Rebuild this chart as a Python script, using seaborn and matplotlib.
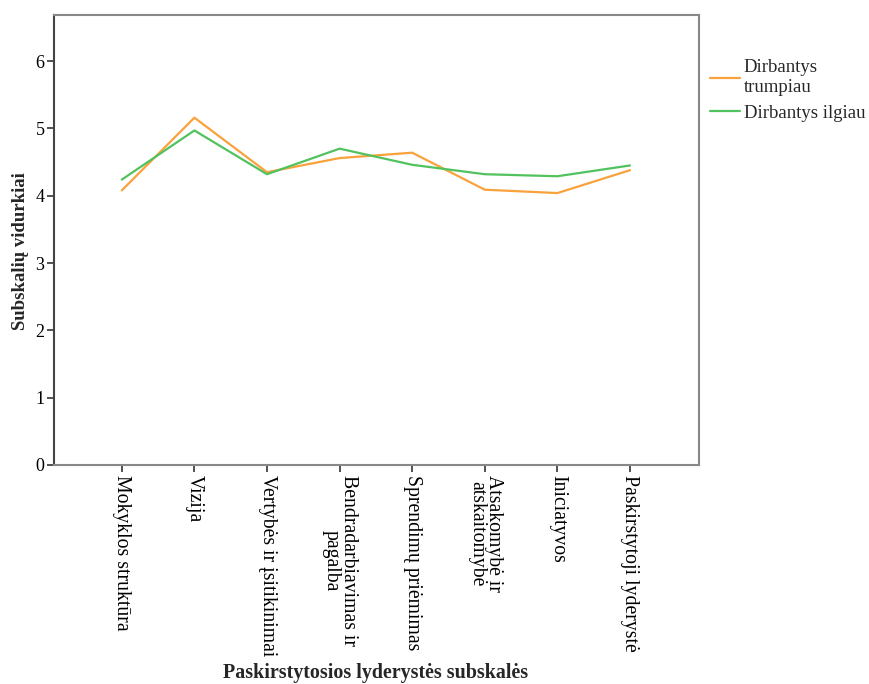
import matplotlib
matplotlib.use("Agg")
import matplotlib.pyplot as plt
import seaborn as sns
import pandas as pd
from matplotlib.lines import Line2D

categories = ["Mokyklos struktūra", "Vizija", "Vertybės ir įsitikinimai",
              "Bendradarbiavimas ir\npagalba", "Sprendimų priėmimas",
              "Atsakomybė ir\natskaitomybė", "Iniciatyvos", "Paskirstytoji lyderystė"]
series_names = ["Dirbantys\ntrumpiau", "Dirbantys ilgiau"]
trumpiau = [4.08, 5.16, 4.35, 4.56, 4.64, 4.09, 4.04, 4.38]
ilgiau = [4.24, 4.97, 4.32, 4.70, 4.46, 4.32, 4.29, 4.45]
colors = ["#F9A23C", "#52C25E"]

df = pd.DataFrame({
    "cat": categories * 2,
    "val": trumpiau + ilgiau,
    "grp": [series_names[0]] * len(categories) + [series_names[1]] * len(categories),
})

sns.set_theme(style="white")
plt.rcParams["font.family"] = ["Liberation Serif", "DejaVu Serif"]

fig = plt.figure(figsize=(8.7, 6.84), dpi=100)
ax = fig.add_axes([0.0624, 0.3202, 0.8034 - 0.0624, 0.9785 - 0.3202])
sns.lineplot(data=df, x="cat", y="val", hue="grp", palette=colors, sort=False,
             linewidth=1.6, ax=ax, legend=False)

ax.set_xlim(-0.93, 7.95)
ax.set_ylim(0, 6.69)
ax.set_yticks(range(0, 7))
ax.set_xticks(range(len(categories)))
ax.set_xticklabels(categories, rotation=270, ha="center", va="top", fontsize=14.2,
                   linespacing=0.85)
ax.tick_params(axis="both", direction="out", length=5, width=1.2, colors="#333333",
               labelcolor="black", bottom=True, left=True, pad=2)
ax.tick_params(axis="y", labelsize=13)
for s in ["top", "right", "bottom"]:
    ax.spines[s].set_color("#888888")
    ax.spines[s].set_linewidth(1.5)
ax.spines["left"].set_color("#444444")
ax.spines["left"].set_linewidth(1.5)

ax.set_ylabel("Subskalių vidurkiai", fontsize=13.5, fontweight="bold")
ax.yaxis.set_label_coords(-0.040, 0.475)
ax.set_xlabel("Paskirstytosios lyderystės subskalės", fontsize=14.4, fontweight="bold")
ax.xaxis.set_label_coords(0.499, -0.439)

handles = [Line2D([], [], color=c, linewidth=1.6) for c in colors]
leg = fig.legend(handles, series_names, loc="upper left",
                 bbox_to_anchor=(710 / 870, 1 - 59 / 684), frameon=False, fontsize=13.5,
                 handlelength=1.6, handletextpad=0.2, labelspacing=0.45, borderaxespad=0,
                 borderpad=0)
for t in leg.get_texts():
    t.set_linespacing(1.25)

fig.savefig("out.png", dpi=100)
